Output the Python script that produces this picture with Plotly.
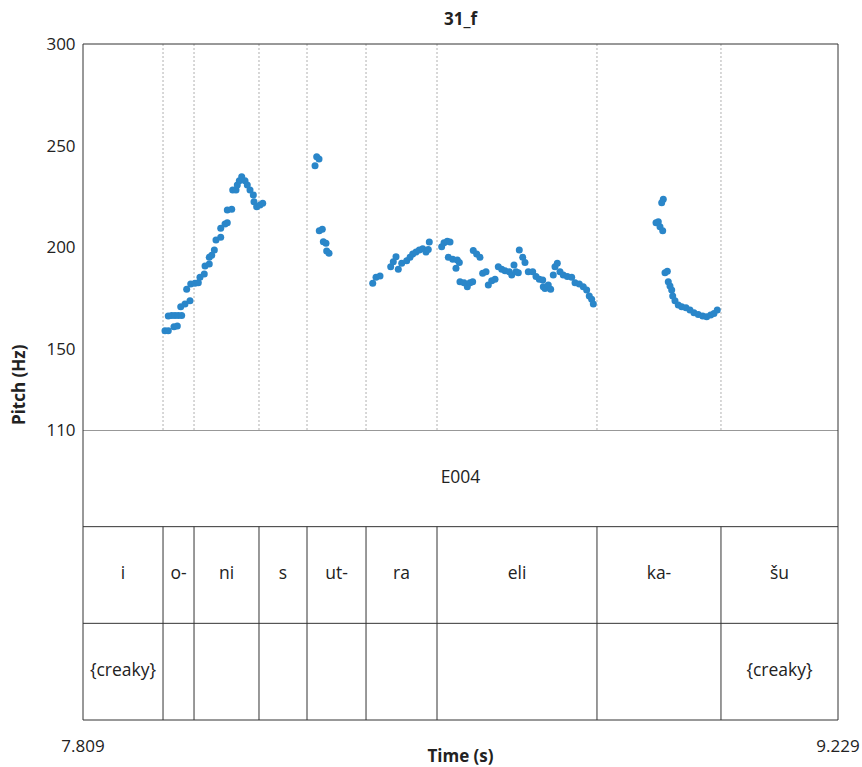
import plotly.graph_objects as go

chart_title = "31_f"
x_title = "Time (s)"
y_title = "Pitch (Hz)"

pitch_t = [7.9632, 7.9694, 7.9801, 7.9864, 7.9694, 7.9758, 7.9820, 7.9882, 7.9946, 7.9928,
           8.0008, 8.0102, 8.0040, 8.0116, 8.0196, 8.0259, 8.0290, 8.0371, 8.0385, 8.0465,
           8.0465, 8.0511, 8.0560, 8.0591, 8.0680, 8.0680, 8.0761, 8.0804, 8.0804, 8.0887,
           8.0906, 8.0968, 8.0992, 8.1030, 8.1075, 8.1137, 8.1180, 8.1231, 8.1293, 8.1306,
           8.1357, 8.1419, 8.1470,
           8.2485, 8.2529, 8.2454, 8.2534, 8.2591, 8.2610, 8.2660, 8.2673, 8.2717,
           8.3539, 8.3601, 8.3676, 8.3877, 8.3926, 8.3977, 8.4020, 8.4084, 8.4178, 8.4240,
           8.4291, 8.4353, 8.4415, 8.4479, 8.4541, 8.4584, 8.4603,
           8.4836, 8.4880, 8.4942, 8.4993, 8.4961, 8.5044, 8.5130, 8.5168, 8.5105, 8.5180,
           8.5256, 8.5318, 8.5369, 8.5419, 8.5430, 8.5494, 8.5556, 8.5607, 8.5670, 8.5713,
           8.5777, 8.5839, 8.5901, 8.5965, 8.6027, 8.6108, 8.6153, 8.6196, 8.6234, 8.6277,
           8.6296, 8.6360, 8.6403, 8.6465, 8.6548, 8.6610, 8.6672, 8.6736, 8.6747, 8.6779,
           8.6841, 8.6886, 8.6935, 8.6967, 8.7011, 8.7061, 8.7123, 8.7199, 8.7281, 8.7344,
           8.7424, 8.7499, 8.7563, 8.7612, 8.7657, 8.7688,
           8.9004, 8.8974, 8.8867, 8.8910, 8.8942, 8.8993, 8.9036, 8.9080, 8.9098, 8.9130,
           8.9162, 8.9181, 8.9224, 8.9286, 8.9350, 8.9431, 8.9506, 8.9581, 8.9662, 8.9745,
           8.9820, 8.9895, 8.9957, 9.0019]

pitch_hz = [158.9, 158.9, 160.8, 161.2, 166.1, 166.3, 166.3, 166.4, 166.4, 170.7,
            172.0, 173.6, 179.3, 181.9, 182.2, 182.5, 185.2, 186.8, 190.7, 191.7,
            195.0, 196.0, 198.6, 203.5, 204.9, 209.3, 211.4, 212.0, 218.3, 218.6,
            228.1, 228.1, 230.6, 232.7, 234.7, 232.7, 230.6, 228.1, 225.7, 222.4,
            219.9, 220.8, 221.6,
            244.5, 243.4, 240.1, 208.1, 208.8, 202.7, 201.9, 198.1, 197.0,
            182.2, 185.2, 185.8, 190.4, 192.8, 195.3, 189.1, 192.1, 193.3, 195.0,
            196.6, 197.6, 198.6, 199.2, 197.6, 198.9, 202.5,
            200.2, 202.2, 202.9, 202.5, 195.0, 194.0, 193.7, 192.4, 189.6, 183.0,
            182.5, 180.5, 182.5, 183.0, 198.3, 196.6, 195.0, 187.1, 187.9, 181.4,
            183.5, 184.2, 190.4, 189.1, 188.4, 187.9, 186.3, 191.2, 187.9, 187.4,
            198.6, 195.0, 192.4, 187.9, 187.9, 185.5, 184.2, 183.8, 180.5, 179.7,
            181.4, 179.3, 186.3, 190.4, 192.1, 187.9, 186.3, 185.5, 185.2, 182.5,
            181.9, 180.5, 178.9, 176.0, 174.3, 172.0,
            223.6, 221.9, 212.0, 212.5, 210.1, 208.1, 187.4, 188.1, 183.0, 180.9,
            178.9, 176.0, 173.6, 171.5, 170.7, 170.2, 169.1, 167.7, 166.9, 166.1,
            165.8, 166.6, 167.4, 169.1]

bounds = [7.809, 7.9595, 8.0178, 8.1400, 8.2303, 8.3413, 8.4748, 8.7757, 9.0089, 9.229]
words = ["i", "o-", "ni", "s", "ut-", "ra", "eli", "ka-", "šu"]
creaky = ["{creaky}", "", "", "", "", "", "", "", "{creaky}"]
tier1_label = "E004"

y_ticks = [110, 150, 200, 250, 300]
x_ticks = [7.809, 9.229]
x_tick_text = ["7.809", "9.229"]

FONT = "Open Sans"
LINE = "#333333"
DOT = "#2a86c9"
TXT = "#222222"

W, H = 862, 767
ML, MT, PW, PH = 83, 44, 755, 676

fig = go.Figure()

fig.add_trace(go.Scatter(
    x=pitch_t, y=pitch_hz, mode="markers",
    marker=dict(color=DOT, size=7, line=dict(width=0)),
    xaxis="x", yaxis="y", showlegend=False, hoverinfo="skip"))

mids = [(bounds[i] + bounds[i + 1]) / 2 for i in range(len(words))]
fig.add_trace(go.Scatter(
    x=[(bounds[0] + bounds[-1]) / 2] + mids + mids,
    y=[2.5] + [1.5] * len(words) + [0.5] * len(words),
    text=[tier1_label] + words + creaky,
    mode="text", textfont=dict(family=FONT, size=17.5, color=TXT),
    xaxis="x", yaxis="y2", showlegend=False, hoverinfo="skip"))

shapes = []
shapes.append(dict(type="rect", xref="paper", yref="paper", x0=0, x1=1, y0=0, y1=1,
                   line=dict(color=LINE, width=1), layer="above"))
for yy in [1, 2, 3]:
    shapes.append(dict(type="line", xref="paper", yref="y2", x0=0, x1=1, y0=yy, y1=yy,
                       line=dict(color=LINE, width=1), layer="above"))
for b in bounds[1:-1]:
    shapes.append(dict(type="line", xref="x", yref="y2", x0=b, x1=b, y0=0, y1=2,
                       line=dict(color=LINE, width=1), layer="above"))
    shapes.append(dict(type="line", xref="x", yref="y", x0=b, x1=b, y0=110, y1=300,
                       line=dict(color="#b0b0b0", width=1, dash="2px,2px"), layer="below"))

split = 290 / 676
fig.update_layout(
    width=W, height=H,
    margin=dict(l=ML, r=W - ML - PW, t=MT, b=H - MT - PH, autoexpand=False),
    paper_bgcolor="white", plot_bgcolor="white",
    font=dict(family=FONT, size=17, color=TXT),
    title=dict(text="<b>" + chart_title + "</b>", x=(ML + PW / 2) / W, xanchor="center",
               y=1 - 19 / H, yanchor="middle", font=dict(family=FONT, size=17, color=TXT)),
    xaxis=dict(range=[bounds[0], bounds[-1]], anchor="y2", showgrid=False, zeroline=False,
               automargin=False,
               tickvals=x_ticks, ticktext=x_tick_text, ticks="outside", ticklen=11,
               tickcolor="rgba(0,0,0,0)", showline=False,
               tickfont=dict(family=FONT, size=17, color=TXT),
               title=dict(text="<b>" + x_title + "</b>", standoff=0,
                          font=dict(family=FONT, size=17, color=TXT))),
    yaxis=dict(domain=[split, 1], range=[110, 300], showgrid=False, zeroline=False,
               automargin=False,
               tickvals=y_ticks, ticks="outside", ticklen=3, tickcolor="rgba(0,0,0,0)",
               tickfont=dict(family=FONT, size=17, color=TXT), showline=False),
    yaxis2=dict(domain=[0, split], range=[0, 3], showgrid=False, zeroline=False,
                automargin=False,
                showticklabels=False, ticks="", showline=False),
    shapes=shapes,
    annotations=[dict(text="<b>" + y_title + "</b>", xref="paper", yref="paper",
                      x=(18 - ML) / PW, y=(720 - 385) / PH, xanchor="center", yanchor="middle",
                      textangle=-90, showarrow=False, font=dict(family=FONT, size=17, color=TXT))],
)

fig.write_html("out.html", config={"displayModeBar": False},
               post_script="document.body.style.margin='0px';document.body.style.overflow='hidden';")
